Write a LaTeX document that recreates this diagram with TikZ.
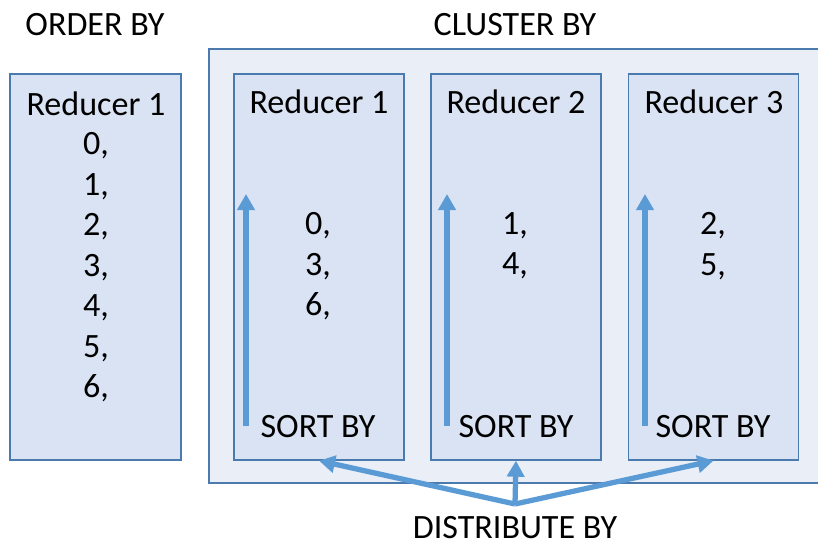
\documentclass[tikz,border=0pt]{standalone}
\usepackage{fontspec}
\setmainfont{Carlito}
\usetikzlibrary{arrows.meta}
\definecolor{boxfill}{HTML}{DAE3F3}
\definecolor{clusterfill}{HTML}{E9EEF7}
\definecolor{boxline}{HTML}{4A7AAE}
\definecolor{arrowblue}{HTML}{5B9BD5}
\begin{document}
\begin{tikzpicture}[x=0.02cm, y=-0.02cm,
  every node/.style={font=\fontsize{19.4}{23.1}\selectfont, inner sep=0pt},
  redbox/.style={draw=boxline, fill=boxfill, line width=0.8pt, minimum width=3.4cm, minimum height=7.72cm},
  clusterbox/.style={draw=boxline, fill=clusterfill, line width=0.8pt},
  flow/.style={draw=arrowblue, line width=3pt, -{Triangle[length=0.32cm, width=0.34cm]}}]
\useasboundingbox (0,0) rectangle (818,552);
\node (T_order) at (95,25) {ORDER BY};
\node (T_cluster) at (515,25) {CLUSTER BY};
\draw[clusterbox] (209,49) rectangle (840,483);
\node[redbox, minimum width=3.42cm] (R_0) at (95.5,267) {};
\node (H_0) at (96,104) {Reducer 1};
\node[align=center, anchor=north] (V_0) at (96,132) {0,\\1,\\2,\\3,\\4,\\5,\\6,};
\node[redbox] (R_1) at (319,267) {};
\node (H_1) at (319,102) {Reducer 1};
\node[align=center, anchor=north] (V_1) at (318,212) {0,\\3,\\6,};
\node (S_1) at (318,427) {SORT BY};
\coordinate (A_1b) at (246,426);
\coordinate (A_1t) at (246,194);
\draw[flow] (A_1b) -- (A_1t);
\node[redbox] (R_2) at (516,267) {};
\node (H_2) at (516,102) {Reducer 2};
\node[align=center, anchor=north] (V_2) at (515,212) {1,\\4,};
\node (S_2) at (516,427) {SORT BY};
\coordinate (A_2b) at (447,426);
\coordinate (A_2t) at (447,194);
\draw[flow] (A_2b) -- (A_2t);
\node[redbox] (R_3) at (713.5,267) {};
\node (H_3) at (714,102) {Reducer 3};
\node[align=center, anchor=north] (V_3) at (713,212) {2,\\5,};
\node (S_3) at (713,427) {SORT BY};
\coordinate (A_3b) at (645,426);
\coordinate (A_3t) at (645,194);
\draw[flow] (A_3b) -- (A_3t);
\coordinate (D) at (515,504);
\draw[flow] (D) -- (R_1.south);
\draw[flow] (D) -- (R_2.south);
\draw[flow] (D) -- (R_3.south);
\node (T_dist) at (515,528) {DISTRIBUTE BY};
\end{tikzpicture}
\end{document}
